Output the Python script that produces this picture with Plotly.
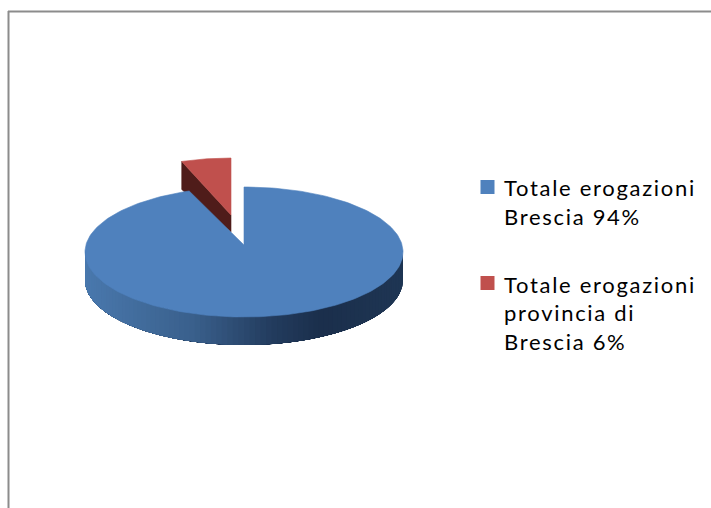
import numpy as np
import plotly.graph_objects as go

categories = ["Totale erogazioni Brescia", "Totale erogazioni provincia di Brescia"]
values = [94.4, 5.6]
percent_labels = ["94%", "6%"]
legend_lines = [["Totale erogazioni", "Brescia 94%"],
                ["Totale erogazioni", "provincia di", "Brescia 6%"]]
colors = ["#4f81bd", "#c0504d"]

W, H = 711, 508
cx, cy, a, b = 244, 252, 159, 65      # blue ellipse
apex = (244, 245)
depth = 28
rcx, rcy, ra, rb = 231, 215, 143, 57  # exploded, further away slice
rdepth_in, rdepth_out = 17, 28

blue_span = 360 * values[0] / sum(values)


def pt(theta, x0, y0, rx, ry):
    t = np.radians(theta)
    return x0 + rx * np.sin(t), y0 - ry * np.cos(t)


def hexrgb(h):
    return np.array([int(h[i:i + 2], 16) for i in (1, 3, 5)], float)


stops = [(0, "#4a79ae"), (.35, "#3a608c"), (.6, "#233c5e"), (.75, "#1b2f4c"), (1, "#1f3654")]


def grad(f):
    xs = [s[0] for s in stops]
    c = [np.interp(f, xs, [hexrgb(s[1])[i] for s in stops]) for i in range(3)]
    return "rgb(%d,%d,%d)" % tuple(c)


fig = go.Figure()


def poly(xs, ys, color, name, lw=0.6):
    fig.add_trace(go.Scatter(x=list(xs), y=list(ys), mode="lines", fill="toself", fillcolor=color,
                             line=dict(color=color, width=lw), hoverinfo="skip",
                             showlegend=False, name=name))


# exploded slice: dark cut face, then top
red_start = blue_span
xc, yc = pt(red_start, rcx, rcy, ra, rb)
poly([xc, rcx, rcx, xc, xc], [yc, rcy, rcy + rdepth_in, yc + rdepth_out, yc], "#4f1c1a", categories[1] + " side")
th = np.linspace(red_start, 360, 24)
rx, ry = pt(th, rcx, rcy, ra, rb)
poly(np.r_[rcx, rx, rcx], np.r_[rcy, ry, rcy], colors[1], categories[1])

# side wall of the large slice: each band runs on to the far end, the next one paints over it
edges = np.linspace(90, 270, 91)
for t0 in edges[:-1]:
    arc = np.linspace(t0, 270, 60)
    x, y = pt(arc, cx, cy, a, b)
    f = (x[0] - (cx - a)) / (2 * a)
    poly(np.r_[x, x[::-1], x[0]], np.r_[y, y[::-1] + depth, y[0]], grad(f), categories[0] + " side", lw=0)

# top of the large slice
th = np.linspace(0, blue_span, 240)
bx, by = pt(th, cx, cy, a, b)
poly(np.r_[apex[0], bx, apex[0]], np.r_[apex[1], by, apex[1]], colors[0], categories[0])

# legend
swatch_y = [187, 283]
line_y = [[190, 219], [287, 315, 344]]
fig.add_trace(go.Scatter(x=[487.5, 487.5], y=swatch_y, mode="markers", showlegend=False, hoverinfo="skip",
                         marker=dict(symbol="square", size=14, color=colors, line=dict(width=0))))
texts = [t for lines in legend_lines for t in lines]
text_y = [y for ys in line_y for y in ys]
fig.add_trace(go.Scatter(x=[504] * len(texts), y=text_y, mode="text", text=texts, textposition="middle right",
                         textfont=dict(family="Lato", size=22, color="#000000"),
                         showlegend=False, hoverinfo="skip"))

frame = dict(color="#8c8c8c", width=2)
fig.update_layout(
    width=W, height=H, margin=dict(l=0, r=0, t=0, b=0), autosize=False,
    paper_bgcolor="white", plot_bgcolor="white",
    xaxis=dict(range=[0, W], visible=False, fixedrange=True),
    yaxis=dict(range=[H, 0], visible=False, fixedrange=True),
    shapes=[
        dict(type="line", xref="x", yref="y", x0=8, y0=11.5, x1=W, y1=11.5, line=frame),
        dict(type="line", xref="x", yref="y", x0=8.5, y0=11, x1=8.5, y1=H, line=frame),
    ],
)
post = """
document.documentElement.style.margin='0';
document.body.style.margin='0';
document.body.style.overflow='hidden';
document.querySelectorAll('.textpoint text').forEach(function(t){t.style.letterSpacing='1.7px';});
"""
fig.write_html("out.html", config=dict(displayModeBar=False), post_script=post)
